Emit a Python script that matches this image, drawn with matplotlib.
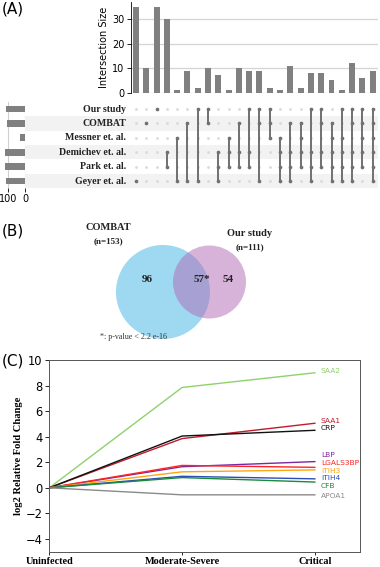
import matplotlib
matplotlib.use("Agg")
import matplotlib.pyplot as plt
from matplotlib.patches import Circle
import numpy as np

# ---------------- data ----------------
set_names = ["Our study", "COMBAT", "Messner et. al.", "Demichev et. al.", "Park et. al.", "Geyer et. al."]
inter_sizes = [35, 10, 35, 30, 1, 9, 2, 10, 7, 1, 10, 9, 9, 2, 1, 11, 2, 8, 8, 5, 1, 12, 6, 9]
inter_sets = [(5,), (1,), (0,), (3, 4), (2, 5), (1, 5), (0, 5), (0, 1), (3, 4, 5), (2, 3, 4),
              (1, 3, 4), (0, 3, 4), (0, 1, 5), (0, 1, 2), (2, 3, 4, 5), (1, 3, 4, 5), (1, 2, 3, 4),
              (0, 3, 4, 5), (0, 1, 3, 4), (1, 2, 3, 4, 5), (0, 2, 3, 4, 5), (0, 1, 3, 4, 5),
              (0, 1, 2, 3, 4), (0, 1, 2, 3, 4, 5)]
bar_ticks = [0, 10, 20, 30]
setsize_ticks = [100, 0]

venn_names = ["COMBAT", "Our study"]
venn_n = [153, 111]
venn_counts = [96, 57, 54]
venn_note = "*: p-value < 2.2 e-16"

stages = ["Uninfected", "Moderate-Severe", "Critical"]
proteins = ["SAA2", "SAA1", "CRP", "LBP", "LGALS3BP", "ITIH3", "ITIH4", "CFB", "APOA1"]
fold_changes = [
    [0, 7.85, 9.0],
    [0, 3.85, 5.05],
    [0, 4.05, 4.5],
    [0, 1.65, 2.05],
    [0, 1.75, 1.6],
    [0, 1.25, 1.4],
    [0, 0.9, 0.7],
    [0, 0.8, 0.45],
    [0, -0.55, -0.55],
]
protein_colors = ["#8fd16c", "#c01a2c", "#111111", "#7b2a9e", "#ff2424", "#ffa514", "#2d4fb5", "#1a8a3a", "#8a8a8a"]
label_y = [9.15, 5.25, 4.65, 2.6, 1.96, 1.34, 0.8, 0.14, -0.62]
y_ticks_c = [-4, -2, 0, 2, 4, 6, 8, 10]

# ---------------- figure ----------------
W, H = 380, 567
fig = plt.figure(figsize=(W / 100, H / 100), dpi=100)

def ax_px(x0, y0, x1, y1, **kw):
    return fig.add_axes([x0 / W, 1 - y1 / H, (x1 - x0) / W, (y1 - y0) / H], **kw)

SERIF = ["Liberation Serif", "DejaVu Serif"]
SANS = ["DejaVu Sans"]
GRAY = "#808080"

n_int = len(inter_sizes)
n_set = len(set_names)
col_w = 10.29
x_first = 136.0
xa0 = x_first - 0.5 * col_w
xa1 = x_first + (n_int - 0.5) * col_w
row_h = 14.4
y_first = 109.0
ym0 = y_first - 0.5 * row_h
ym1 = y_first + (n_set - 0.5) * row_h

# row shading background
bg = ax_px(25, ym0, xa1, ym1)
bg.set_xlim(0, 1)
bg.set_ylim(n_set - 0.5, -0.5)
bg.axis("off")
for i in range(n_set):
    if i % 2 == 1:
        bg.axhspan(i - 0.5, i + 0.5, color="#f2f2f2", lw=0)

# intersection bar axes
axb = ax_px(xa0, 2, xa1, 92.7)
xs = np.arange(n_int)
axb.bar(xs, inter_sizes, width=0.58, color=GRAY, zorder=3)
axb.set_xlim(-0.5, n_int - 0.5)
axb.set_ylim(0, 36.9)
axb.set_yticks(bar_ticks)
axb.tick_params(axis="y", labelsize=7, length=3, width=0.6, pad=1.5)
axb.set_xticks([])
for s in ["top", "right", "bottom"]:
    axb.spines[s].set_visible(False)
axb.spines["left"].set_linewidth(0.6)
axb.yaxis.grid(True, color="#d4d4d4", lw=0.9)
axb.set_axisbelow(True)
axb.set_ylabel("Intersection Size", fontsize=7, labelpad=2)
axb.patch.set_alpha(0)

# matrix axes
axm = ax_px(xa0, ym0, xa1, ym1)
axm.set_xlim(-0.5, n_int - 0.5)
axm.set_ylim(n_set - 0.5, -0.5)
axm.axis("off")
axm.patch.set_alpha(0)
for j, members in enumerate(inter_sets):
    for i in range(n_set):
        if i not in members:
            axm.scatter(j, i, s=4, color="#d9d9d9", zorder=2, lw=0)
    axm.plot([j, j], [min(members), max(members)], color="#707070", lw=1.4, zorder=3,
             solid_capstyle="round")
    axm.scatter([j] * len(members), list(members), s=7, color="#707070", zorder=4, lw=0)

# set-size axes
set_sizes = [sum(sz for sz, m in zip(inter_sizes, inter_sets) if i in m) for i in range(n_set)]
axs = ax_px(3.9, ym0, 25, ym1)
axs.barh(np.arange(n_set), set_sizes, height=0.48, color=GRAY, zorder=3)
axs.set_xlim(124, 0)
axs.set_ylim(n_set - 0.5, -0.5)
axs.set_yticks([])
axs.set_xticks(setsize_ticks)
axs.tick_params(axis="x", labelsize=7, length=3, width=0.6, pad=1.5)
for s in ["top", "right", "left", "bottom"]:
    axs.spines[s].set_visible(False)
axs.xaxis.grid(True, color="#cfcfcf", lw=0.8)
axs.set_axisbelow(True)
axs.patch.set_alpha(0)

# ---------------- line chart ----------------
axc = ax_px(49.3, 360, 360, 551.7)
xpos = np.arange(len(stages))
for vals, col in zip(fold_changes, protein_colors):
    axc.plot(xpos, vals, color=col, lw=1.0)
for name, col, ly in zip(proteins, protein_colors, label_y):
    axc.text(2.045, ly, name, color=col, fontsize=5.4, va="center", ha="left", family=SANS)
axc.set_xlim(0, 2.34)
axc.set_ylim(-5, 10)
axc.set_yticks(y_ticks_c)
axc.set_xticks(xpos)
axc.set_xticklabels(stages, family=SERIF, fontweight="bold", fontsize=7.4)
axc.tick_params(axis="y", labelsize=8.3, length=3, width=0.6, pad=2)
axc.tick_params(axis="x", length=2.5, width=0.6, pad=1.5)
for s in axc.spines.values():
    s.set_color("#555555")
    s.set_linewidth(0.7)
axc.set_ylabel("log2 Relative Fold Change", family=SERIF, fontweight="bold", fontsize=7.6, labelpad=2)

# overlay axes in pixel coordinates (on top)
ov = ax_px(0, 0, W, H)
ov.set_xlim(0, W)
ov.set_ylim(H, 0)
ov.axis("off")
ov.patch.set_alpha(0)

for i, name in enumerate(set_names):
    ov.text(126, y_first + i * row_h, name, ha="right", va="center", fontsize=7.1,
            family=SERIF, fontweight="bold", color="#222222")

# panel labels
ov.text(2, 2, "(A)", fontsize=11, va="top", ha="left", family=SANS)
ov.text(2, 224, "(B)", fontsize=11, va="top", ha="left", family=SANS)
ov.text(2, 353, "(C)", fontsize=11, va="top", ha="left", family=SANS)

# ---------------- Venn ----------------
ov.add_patch(Circle((163, 292), 47, facecolor="#9ed8f1", edgecolor="none", zorder=2))
ov.add_patch(Circle((209.5, 282), 36.5, facecolor="#b169b5", alpha=0.5, edgecolor="none", zorder=3))
ov.text(108, 228, venn_names[0], ha="center", va="center", fontsize=7.5, family=SERIF,
        fontweight="bold", color="#222222", zorder=5)
ov.text(108, 241.5, f"(n={venn_n[0]})", ha="center", va="center", fontsize=6.5, family=SERIF,
        fontweight="bold", color="#222222", zorder=5)
ov.text(250, 234, venn_names[1], ha="center", va="center", fontsize=7.5, family=SERIF,
        fontweight="bold", color="#222222", zorder=5)
ov.text(250, 247, f"(n={venn_n[1]})", ha="center", va="center", fontsize=6.5, family=SERIF,
        fontweight="bold", color="#222222", zorder=5)
ov.text(147.3, 280, str(venn_counts[0]), ha="center", va="center", fontsize=8, family=SERIF,
        fontweight="bold", color="#222222", zorder=5)
ov.text(201.7, 280, f"{venn_counts[1]}*", ha="center", va="center", fontsize=8, family=SERIF,
        fontweight="bold", color="#222222", zorder=5)
ov.text(228.3, 280, str(venn_counts[2]), ha="center", va="center", fontsize=8, family=SERIF,
        fontweight="bold", color="#222222", zorder=5)
ov.text(100, 337, venn_note, ha="left", va="center", fontsize=5.8, family=SERIF, color="#333333")

fig.savefig("out.png", dpi=100)
